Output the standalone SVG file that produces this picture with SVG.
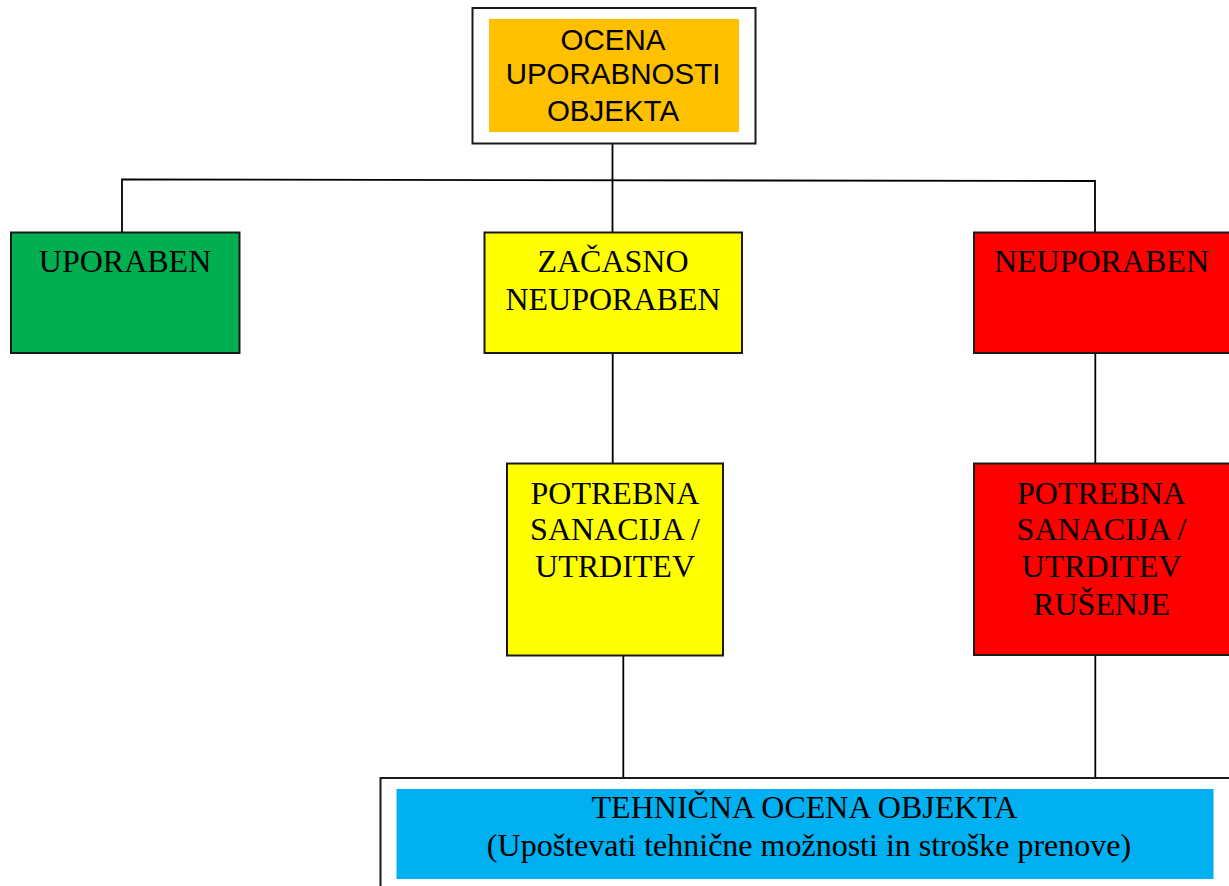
<svg xmlns="http://www.w3.org/2000/svg" width="1229" height="886" viewBox="0 0 1229 886">
<style>
.box{stroke:#1a1a1a;stroke-width:2}
.ser{font-family:"Liberation Serif","Times New Roman",serif;font-size:32px;fill:#000;text-anchor:middle}
.san{font-family:"Liberation Sans",Arial,sans-serif;font-size:29.5px;fill:#000;text-anchor:middle}
.con{stroke:#000;stroke-width:1.8;fill:none}
</style>
<rect width="1229" height="886" fill="#fff"/>
<g id="connectors">
<line class="con" x1="612.5" y1="144" x2="612.5" y2="232"/>
<polyline class="con" points="122,232 122,179.5 1095,181 1095,232"/>
<line class="con" x1="612.7" y1="353" x2="612.7" y2="463"/>
<line class="con" x1="1095.3" y1="353" x2="1095.3" y2="463"/>
<line class="con" x1="623.3" y1="656" x2="623.3" y2="778"/>
<line class="con" x1="1095.3" y1="655" x2="1095.3" y2="778"/>
</g>
<g id="ocena">
<rect class="box" x="472.5" y="8" width="283" height="135.5" fill="#fff"/>
<rect x="489" y="19" width="250" height="113" fill="#FFC000"/>
<text class="san" x="613" y="49.5">OCENA</text>
<text class="san" x="613" y="84">UPORABNOSTI</text>
<text class="san" x="613" y="120.5">OBJEKTA</text>
</g>
<g id="uporaben">
<rect class="box" x="11" y="232.5" width="228.5" height="120.5" fill="#00B050"/>
<text class="ser" x="125" y="272">UPORABEN</text>
</g>
<g id="zacasno">
<rect class="box" x="484.5" y="232.5" width="257.5" height="120.5" fill="#FFFF00"/>
<text class="ser" x="613" y="272">ZAČASNO</text>
<text class="ser" x="613" y="310">NEUPORABEN</text>
</g>
<g id="neuporaben">
<rect class="box" x="974" y="232.5" width="270" height="120.5" fill="#FF0000"/>
<text class="ser" x="1101.5" y="272">NEUPORABEN</text>
</g>
<g id="sanacija1">
<rect class="box" x="507" y="463.5" width="216" height="192" fill="#FFFF00"/>
<text class="ser" x="615" y="503.5">POTREBNA</text>
<text class="ser" x="615" y="540">SANACIJA /</text>
<text class="ser" x="615" y="577">UTRDITEV</text>
</g>
<g id="sanacija2">
<rect class="box" x="974" y="463.5" width="270" height="191.5" fill="#FF0000"/>
<text class="ser" x="1101.5" y="503.5">POTREBNA</text>
<text class="ser" x="1101.5" y="540">SANACIJA /</text>
<text class="ser" x="1101.5" y="577">UTRDITEV</text>
<text class="ser" x="1101.5" y="615">RUŠENJE</text>
</g>
<g id="tehnicna">
<rect class="box" x="380.5" y="778" width="900" height="200" fill="#fff"/>
<rect x="396.5" y="789" width="817" height="90" fill="#00B0F0"/>
<text class="ser" x="804.5" y="818">TEHNIČNA OCENA OBJEKTA</text>
<text class="ser" x="809" y="856">(Upoštevati tehnične možnosti in stroške prenove)</text>
</g>
</svg>
